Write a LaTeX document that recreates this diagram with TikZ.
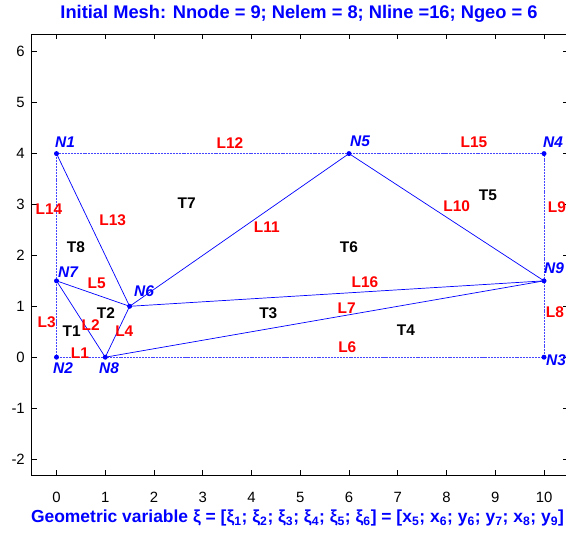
\documentclass[tikz,border=0pt]{standalone}
\usepackage{fontspec}
\setmainfont{Liberation Sans}
\definecolor{bndblue}{RGB}{70,70,255}
\begin{document}
\begin{tikzpicture}[x=0.03cm,y=-0.03cm,
  lab/.style={font=\fontsize{13.2}{14}\selectfont\bfseries, text=red, inner sep=0pt},
  tri/.style={font=\fontsize{13.2}{14}\selectfont\bfseries, text=black, inner sep=0pt},
  nlab/.style={font=\fontsize{13.2}{14}\selectfont\bfseries\itshape, text=blue, inner sep=0pt},
  ticklab/.style={font=\fontsize{12.7}{14}\selectfont, inner sep=0pt},
  ttl/.style={font=\fontsize{15.6}{17}\selectfont\bfseries, text=blue, inner sep=0pt},
  xttl/.style={font=\fontsize{14.9}{17}\selectfont\bfseries, text=blue, inner sep=0pt},
  edge/.style={blue, line width=0.6pt},
  bnd/.style={bndblue, line width=0.6pt, dash pattern=on 0.9pt off 0.4pt},
  dot/.style={circle, fill=blue, inner sep=0pt, minimum size=0.15cm},
  axisline/.style={black, line width=0.8pt}]
\useasboundingbox (0,0) rectangle (566,532);
\fill[white] (0,0) rectangle (566,532);
\begin{scope}[shift={(56.5,357.2)}, x=1.4625cm, y=1.527cm]
  % axes box and ticks
  \draw[axisline] (-0.52,-2.314) rectangle (10.5,6.35);
  \foreach \i in {0,...,10} {
    \draw[axisline, line width=0.5pt] (\i,-2.314) -- ++(0,0.1);
    \draw[axisline, line width=0.5pt] (\i,6.35) -- ++(0,-0.1);
    \node[ticklab] (xt\i) at (\i,-2.746) {\i};
  }
  \foreach \j in {-2,...,6} {
    \draw[axisline, line width=0.5pt] (-0.52,\j) -- ++(0.12,0);
    \draw[axisline, line width=0.5pt] (10.5,\j) -- ++(-0.12,0);
    \node[ticklab, anchor=east] (yt\j) at (-0.646,\j) {\j};
  }
  % mesh nodes
  \coordinate (N1) at (0,4);
  \coordinate (N2) at (0,0);
  \coordinate (N3) at (10,0);
  \coordinate (N4) at (10,4);
  \coordinate (N5) at (6,4);
  \coordinate (N6) at (1.5,1);
  \coordinate (N7) at (0,1.5);
  \coordinate (N8) at (1,0);
  \coordinate (N9) at (10,1.5);
  % boundary lines (dotted)
  \draw[bnd] (N2) -- (N8);
  \draw[bnd] (N8) -- (N3);
  \draw[bnd] (N3) -- (N9);
  \draw[bnd] (N9) -- (N4);
  \draw[bnd] (N4) -- (N5);
  \draw[bnd] (N5) -- (N1);
  \draw[bnd] (N1) -- (N7);
  \draw[bnd] (N7) -- (N2);
  % interior lines
  \draw[edge] (N7) -- (N8);
  \draw[edge] (N8) -- (N6);
  \draw[edge] (N7) -- (N6);
  \draw[edge] (N8) -- (N9);
  \draw[edge] (N6) -- (N9);
  \draw[edge] (N6) -- (N5);
  \draw[edge] (N5) -- (N9);
  \draw[edge] (N1) -- (N6);
  % node markers
  \foreach \n in {N1,N2,N3,N4,N5,N6,N7,N8,N9} {
    \node[dot] (d\n) at (\n) {};
  }
\end{scope}
% node labels
\node[nlab] (lN1) at (65,142) {N1};
\node[nlab] (lN2) at (63,368) {N2};
\node[nlab] (lN3) at (556,360) {N3};
\node[nlab] (lN4) at (553,142) {N4};
\node[nlab] (lN5) at (360,141) {N5};
\node[nlab] (lN6) at (144,291) {N6};
\node[nlab] (lN7) at (68,272) {N7};
\node[nlab] (lN8) at (109,368) {N8};
\node[nlab] (lN9) at (554,268) {N9};
% line labels
\node[lab] (L1) at (80,352.7) {L1};
\node[lab] (L2) at (90.7,325) {L2};
\node[lab] (L3) at (46.7,321.7) {L3};
\node[lab] (L4) at (124.3,330.7) {L4};
\node[lab] (L5) at (96.7,283.3) {L5};
\node[lab] (L6) at (347.3,346.7) {L6};
\node[lab] (L7) at (346.7,308.3) {L7};
\node[lab] (L8) at (555,311.7) {L8};
\node[lab] (L9) at (557,206.7) {L9};
\node[lab] (L10) at (456.7,206) {L10};
\node[lab] (L11) at (266.7,226.7) {L11};
\node[lab] (L12) at (230,142.7) {L12};
\node[lab] (L13) at (112.7,220) {L13};
\node[lab] (L14) at (49,209) {L14};
\node[lab] (L15) at (474,142.7) {L15};
\node[lab] (L16) at (365,282.3) {L16};
% element labels
\node[tri] (T1) at (71.7,330.7) {T1};
\node[tri] (T2) at (106,312.7) {T2};
\node[tri] (T3) at (268.3,312.7) {T3};
\node[tri] (T4) at (406,330) {T4};
\node[tri] (T5) at (488,195) {T5};
\node[tri] (T6) at (349,246.7) {T6};
\node[tri] (T7) at (186.7,203) {T7};
\node[tri] (T8) at (76,246.7) {T8};
% title and x label
\node[ttl] (title) at (299,14) {Initial Mesh: Nnode = 9; Nelem = 8; Nline =16; Ngeo = 6};
\node[xttl] (xlab) at (297.5,518) {Geometric variable ξ = [ξ\textsubscript{1}; ξ\textsubscript{2}; ξ\textsubscript{3}; ξ\textsubscript{4}; ξ\textsubscript{5}; ξ\textsubscript{6}] = [x\textsubscript{5}; x\textsubscript{6}; y\textsubscript{6}; y\textsubscript{7}; x\textsubscript{8}; y\textsubscript{9}]};
\end{tikzpicture}
\end{document}
